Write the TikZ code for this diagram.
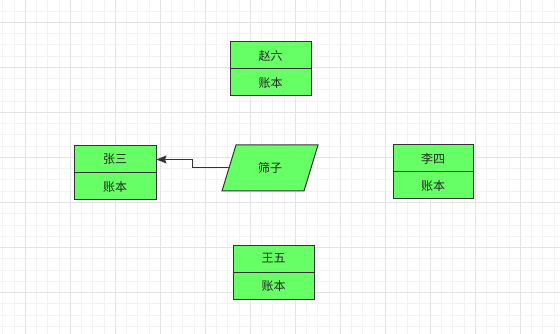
\documentclass[tikz,border=0pt]{standalone}
\usepackage{fontspec}
\newfontfamily\cjk{Noto Sans CJK SC}
\usetikzlibrary{arrows.meta,calc}
\definecolor{boxfill}{HTML}{66FF66}
\definecolor{boxline}{HTML}{333333}
\definecolor{gridminor}{HTML}{F2F2F2}
\definecolor{gridmajor}{HTML}{E3E3E3}
\tikzset{
  half/.style={draw=boxline, fill=boxfill, line width=1, minimum width=81, minimum height=27, inner sep=0, font=\cjk\fontsize{12}{14}\selectfont, text=black!85},
  slantshape/.style={draw=boxline, fill=boxfill, line width=1, line join=miter},
  label/.style={inner sep=0, font=\cjk\fontsize{12}{14}\selectfont, text=black!85},
  link/.style={draw=boxline, line width=1, -{Stealth[length=10,width=8,inset=1.5]}}
}
\begin{document}
\begin{tikzpicture}[x=1pt,y=-1pt]
\useasboundingbox (0,0) rectangle (560,334);
\fill[white] (0,0) rectangle (560,334);
% grid
\foreach \i in {0,...,50} {
  \pgfmathsetmacro{\gx}{2.8+11.25*\i}
  \draw[gridminor, line width=1] (\gx,0) -- (\gx,334);
}
\foreach \i in {0,...,30} {
  \pgfmathsetmacro{\gy}{11.25*\i}
  \draw[gridminor, line width=1] (0,\gy) -- (560,\gy);
}
\foreach \i in {0,...,12} {
  \pgfmathsetmacro{\gx}{25.3+45*\i}
  \draw[gridmajor, line width=1] (\gx,0) -- (\gx,334);
}
\foreach \i in {0,...,7} {
  \pgfmathsetmacro{\gy}{22.5+45*\i}
  \draw[gridmajor, line width=1] (0,\gy) -- (560,\gy);
}
% boxes
\node[half, minimum width=82] (zs)  at (115,159.5) {张三};
\node[half, minimum width=82] (zsb) at (115,186.5) {账本};
\node[half] (zl)  at (270.5,55.5) {赵六};
\node[half] (zlb) at (270.5,82.5) {账本};
\node[half, minimum width=80] (ls)  at (433,158.5) {李四};
\node[half, minimum width=80] (lsb) at (433,185.5) {账本};
\node[half] (ww)  at (273.5,258.5) {王五};
\node[half] (wwb) at (273.5,285.5) {账本};
% parallelogram
\coordinate (ptl) at (236,145);
\coordinate (ptr) at (318,145);
\coordinate (pbr) at (304,191);
\coordinate (pbl) at (222,191);
\draw[slantshape] (ptl) -- (ptr) -- (pbr) -- (pbl) -- cycle;
\coordinate (szw) at ($(ptl)!0.5!(pbl)$);
\node[label] (sz) at (270,168) {筛子};
% connector
\draw[link] (szw) -- ($(szw)!0.5!(szw -| zs.east)$) |- (zs.east);
\end{tikzpicture}
\end{document}
